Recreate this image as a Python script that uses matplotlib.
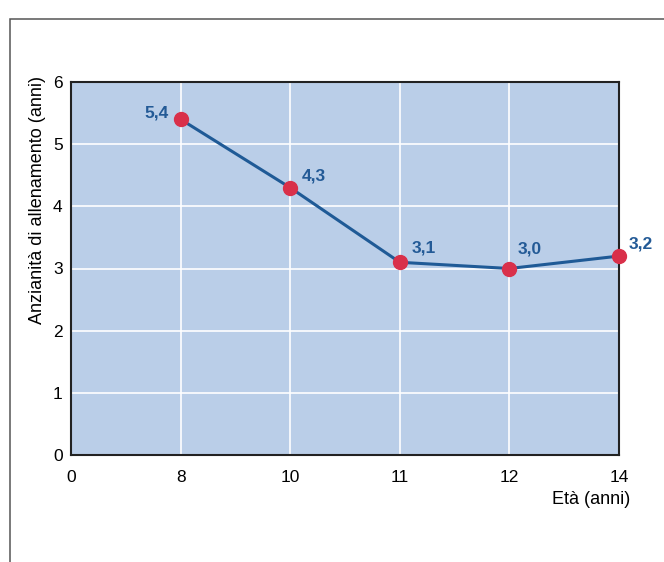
import matplotlib
matplotlib.use('Agg')
import matplotlib.pyplot as plt
from matplotlib.patches import Rectangle

# age classes (x axis) and mean training years
eta = ['0', '8', '10', '11', '12', '14']
eta_punti = ['8', '10', '11', '12', '14']
anzianita = [5.4, 4.3, 3.1, 3.0, 3.2]

plt.rcParams['font.family'] = ['Liberation Sans', 'DejaVu Sans']

fig = plt.figure(figsize=(6.64, 5.62), dpi=100)
ax = fig.add_axes([71/664, 1-455/562, 548/664, 373/562])

# outer frame of the figure box
fig.patches.append(Rectangle((10/664, -0.1), 1.2, 0.1 + 1 - 19/562,
                             transform=fig.transFigure, fill=False,
                             edgecolor='#555555', linewidth=1.1))

xs = [eta.index(e) for e in eta_punti]
ax.set_facecolor('#BACEE8')
ax.plot(xs, anzianita, color='#1F5A96', linewidth=2.2, zorder=3)
ax.plot(xs, anzianita, 'o', color='#D9304A', markersize=10, zorder=4,
        clip_on=False)

# value labels, italian decimal comma
offsets = [(-12, 6), (12, 12), (12, 14), (8, 20), (10, 12)]
for x, v, off in zip(xs, anzianita, offsets):
    ha = 'right' if off[0] < 0 else 'left'
    ax.annotate(('%.1f' % v).replace('.', ','), (x, v), xytext=off,
                textcoords='offset pixels', ha=ha, va='center',
                fontsize=12.5, fontweight='bold', color='#235A96',
                annotation_clip=False, zorder=5)

ax.set_xlim(0, 5)
ax.set_ylim(0, 6)
ax.set_xticks(range(len(eta)))
ax.set_xticklabels(eta)
ax.set_yticks(range(0, 7))
ax.grid(True, color='white', linewidth=1.2)
ax.set_axisbelow(True)
ax.tick_params(length=0, labelsize=12.5)
ax.tick_params(axis='x', pad=11)
ax.tick_params(axis='y', pad=6)
for s in ax.spines.values():
    s.set_color('#222222')
    s.set_linewidth(1.5)

# y label sits high, close to the top of the axis
ax.set_ylabel('Anzianità di allenamento (anni)', fontsize=13, labelpad=5,
              y=0.684)
fig.text(630/664, 1-499/562, 'Età (anni)', ha='right', va='center', fontsize=13)

plt.savefig('out.png', dpi=100)
